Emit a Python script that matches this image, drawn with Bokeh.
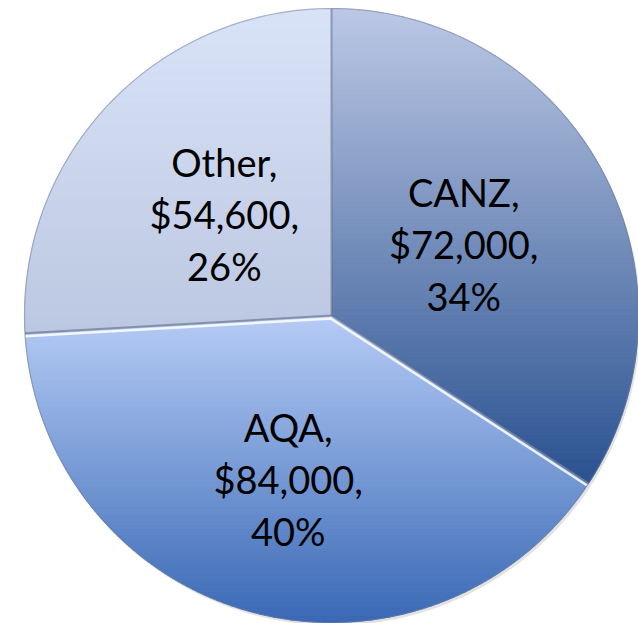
import numpy as np
from bokeh.plotting import figure
from bokeh.models import Range1d, ColumnDataSource
from bokeh.core.properties import value
from bokeh.embed import file_html
from bokeh.resources import INLINE

# ---------------- data ----------------
categories = ["CANZ", "AQA", "Other"]
amounts = [72000, 84000, 54600]

# ---------------- style ----------------
TOP_COLORS = ["#bcc8e5", "#b6ccf6", "#d9e3f8"]
BOTTOM_COLORS = ["#2a5290", "#3a69b5", "#bcc7e1"]
LABEL_R = [0.49, 0.55, 0.48]
W, H = 638, 623
ORIGIN = 0.0                       # page offset of the figure
CX, CY, R = 331.0, 315.0, 307.0   # pie center / radius in page pixels
LINE_GAP = 52

total = float(sum(amounts))
fracs = [a / total for a in amounts]
bounds = np.concatenate([[0.0], np.cumsum(fracs)]) * 2 * np.pi  # clockwise from 12 o'clock

p = figure(width=W, height=H, output_backend="svg", toolbar_location=None,
           x_range=Range1d((ORIGIN - CX) / R, (ORIGIN + W - CX) / R),
           y_range=Range1d((CY - (ORIGIN + H)) / R, (CY - ORIGIN) / R),
           min_border=0)
p.axis.visible = False
p.grid.visible = False
p.outline_line_color = None
p.background_fill_color = "white"
p.border_fill_color = "white"


def hex2rgb(h):
    h = h.lstrip("#")
    return np.array([int(h[i:i + 2], 16) for i in (0, 2, 4)], dtype=float)


def rgb2hex(c):
    c = np.clip(np.round(c), 0, 255).astype(int)
    return "#%02x%02x%02x" % tuple(c)


def clip_half(poly, yv, keep_above):
    out = []
    n = len(poly)
    for i in range(n):
        cur = poly[i]
        prev = poly[i - 1]
        cin = cur[1] >= yv if keep_above else cur[1] <= yv
        pin = prev[1] >= yv if keep_above else prev[1] <= yv
        if cin:
            if not pin:
                t = (yv - prev[1]) / (cur[1] - prev[1])
                out.append((prev[0] + t * (cur[0] - prev[0]), yv))
            out.append(cur)
        elif pin:
            t = (yv - prev[1]) / (cur[1] - prev[1])
            out.append((prev[0] + t * (cur[0] - prev[0]), yv))
    return out


# soft shadow
sh = np.linspace(0, 2 * np.pi, 300)
p.patch(np.sin(sh) * 1.0 + 2.0 / R, np.cos(sh) * 1.0 - 3.0 / R,
        fill_color="#a0a0a0", fill_alpha=0.3, line_color=None)

# gradient-filled slices built from horizontal bands
xs, ys, cols = [], [], []
NB = 110
for i in range(len(amounts)):
    a0, a1 = bounds[i], bounds[i + 1]
    th = np.linspace(a0, a1, 240)
    poly = [(0.0, 0.0)] + [(np.sin(t), np.cos(t)) for t in th]
    pys = [q[1] for q in poly]
    ymin, ymax = min(pys), max(pys)
    top, bot = hex2rgb(TOP_COLORS[i]), hex2rgb(BOTTOM_COLORS[i])
    edges = np.linspace(ymax, ymin, NB + 1)
    for k in range(NB):
        yhi, ylo = edges[k], edges[k + 1]
        band = clip_half(poly, ylo, True)
        if len(band) < 3:
            continue
        band = clip_half(band, yhi, False)
        if len(band) < 3:
            continue
        t = (k + 0.5) / NB
        xs.append([q[0] for q in band])
        ys.append([q[1] for q in band])
        cols.append(rgb2hex(top + t * (bot - top)))

p.patches(xs=xs, ys=ys, fill_color=cols, line_color=cols, line_width=1.0)

# bevel: dark seams and white highlight on the AQA side
for j in range(3):
    phi = bounds[j]
    p.line([0, np.sin(phi)], [0, np.cos(phi)], line_color="#56607a", line_alpha=0.55, line_width=2)

aqa = categories.index("AQA")
for phi, sgn in ((bounds[aqa], 1.0), (bounds[aqa + 1], -1.0)):
    off = 3.0 / R
    ox, oy = sgn * np.cos(phi) * off, -sgn * np.sin(phi) * off
    p.line([ox, np.sin(phi) + ox], [oy, np.cos(phi) + oy],
           line_color="white", line_alpha=0.85, line_width=2.5)

# outer rim
p.line(np.sin(sh), np.cos(sh), line_color="#6f7c99", line_alpha=0.5, line_width=1.2)

# labels
tx, ty, tt, to = [], [], [], []
for i, cat in enumerate(categories):
    mid = (bounds[i] + bounds[i + 1]) / 2
    lx, ly = LABEL_R[i] * np.sin(mid), LABEL_R[i] * np.cos(mid)
    rows = [cat + ",", "${:,},".format(amounts[i]), "{}%".format(int(round(100 * amounts[i] / total)))]
    for r, txt in enumerate(rows):
        tx.append(lx)
        ty.append(ly)
        tt.append(txt)
        to.append((r - 1) * LINE_GAP)

src = ColumnDataSource(dict(x=tx, y=ty, text=tt, yoff=to))
p.text(x="x", y="y", text="text", y_offset="yoff", source=src,
       text_font=value("Lato"), text_font_size="38px", text_color="black",
       text_align="center", text_baseline="middle")

open("out.html", "w").write(file_html(p, INLINE))
